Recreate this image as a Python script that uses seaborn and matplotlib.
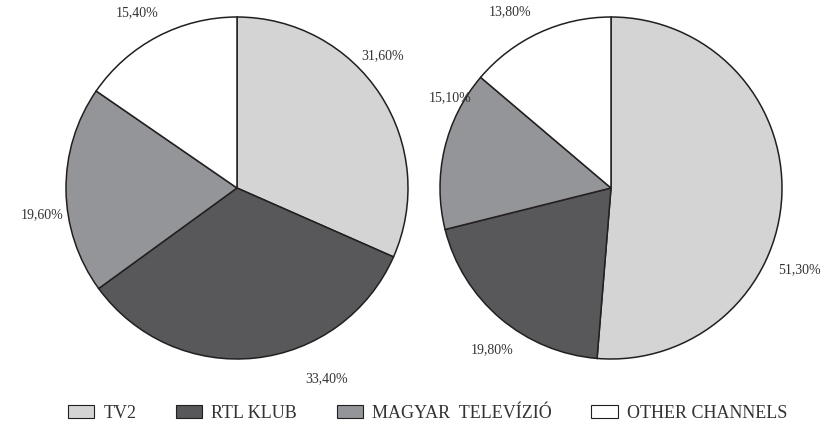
import matplotlib
matplotlib.use('Agg')
import matplotlib.pyplot as plt
import seaborn as sns
import numpy as np
from matplotlib.patches import Patch

# 데이터
channels = ['TV2', 'RTL KLUB', 'MAGYAR  TELEVÍZIÓ', 'OTHER CHANNELS']
share_left = [31.6, 33.4, 19.6, 15.4]
share_right = [51.3, 19.8, 15.1, 13.8]
colors = ['#d4d4d5', '#58585a', '#949599', '#ffffff']

# 라벨 위치 보정 (각도 오프셋, 거리)
label_shift_left = [(9, 1.15), (19, 1.23), (7, 1.15), (2, 1.18)]
label_shift_right = [(-21, 1.20), (4, 1.17), (-16, 1.08), (5, 1.19)]

sns.set_theme(style='white')
plt.rcParams['font.family'] = ['Liberation Serif', 'DejaVu Serif']

W, H = 833, 425
fig = plt.figure(figsize=(W / 100, H / 100), dpi=100)

R = 171      # pie radius in px
L = 1.3      # axis half-range in data units
size = 2 * R * L

def pie_axes(cx, cy):
    return fig.add_axes([(cx - size / 2) / W, 1 - (cy + size / 2) / H, size / W, size / H])

def fmt(p):
    return f'{p:.2f}%'.replace('.', ',')

for (cx, cy), vals, shifts in [((237, 188), share_left, label_shift_left),
                               ((611, 188), share_right, label_shift_right)]:
    ax = pie_axes(cx, cy)
    wedges, texts, autotexts = ax.pie(
        vals, colors=colors, startangle=90, counterclock=False,
        autopct=fmt, pctdistance=1.17,
        wedgeprops=dict(edgecolor='#231f20', linewidth=1.1),
        textprops=dict(fontsize=10, color='#333333'))
    for w, t, (da, dist) in zip(wedges, autotexts, shifts):
        mid = np.deg2rad((w.theta1 + w.theta2) / 2 + da)
        t.set_position((dist * np.cos(mid), dist * np.sin(mid)))
        t.set_clip_on(False)
    ax.set_xlim(-L, L)
    ax.set_ylim(-L, L)
    ax.set_aspect('equal')
    ax.axis('off')

handles = [Patch(facecolor=c, edgecolor='#231f20', linewidth=0.8) for c in colors]
fig.legend(handles, channels, loc='center', bbox_to_anchor=((W / 2 + 11) / W, 1 - 413 / H),
           ncol=4, frameon=False, fontsize=13, handlelength=1.45, handleheight=0.72,
           handletextpad=0.5, columnspacing=2.2, labelcolor='#333333',
           borderpad=0, borderaxespad=0)

fig.savefig('out.png', dpi=100)
